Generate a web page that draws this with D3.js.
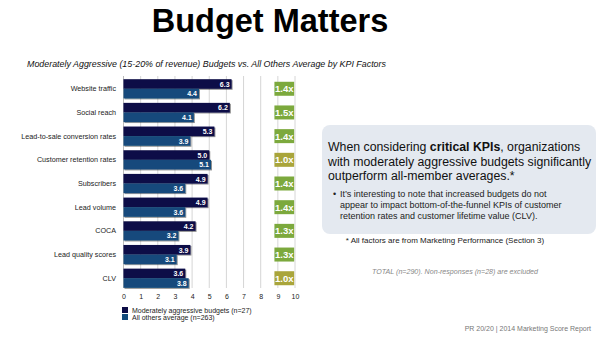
<!DOCTYPE html>
<html>
<head>
<meta charset="utf-8">
<script src="https://cdn.jsdelivr.net/npm/d3@7"></script>
<style>
  body { margin: 0; background: #fff; }
  svg { font-family: "Liberation Sans", Arial, Helvetica, sans-serif; }
  .grid line { stroke: #d6d6d6; stroke-width: 1; }
  .axis path, .axis line { display: none; }
  .axis text { font-size: 7px; fill: #222; }
</style>
</head>
<body>
<svg id="chart" width="600" height="345"></svg>
<script>
var categories = ["Website traffic", "Social reach", "Lead-to-sale conversion rates",
  "Customer retention rates", "Subscribers", "Lead volume", "COCA",
  "Lead quality scores", "CLV"];
var aggressive = [6.3, 6.2, 5.3, 5.0, 4.9, 4.9, 4.2, 3.9, 3.6];
var others = [4.4, 4.1, 3.9, 5.1, 3.6, 3.6, 3.2, 3.1, 3.8];
var multipliers = ["1.4x", "1.5x", "1.4x", "1.0x", "1.4x", "1.4x", "1.3x", "1.3x", "1.0x"];
var ticks = [0, 1, 2, 3, 4, 5, 6, 7, 8, 9, 10];
var seriesNames = ["Moderately aggressive budgets (n=27)", "All others average (n=263)"];

var svg = d3.select("#chart");

var x = d3.scaleLinear().domain([0, 10]).range([123.5, 295]);
var y = d3.scaleBand().domain(categories).range([78, 289]).paddingInner(0.19).paddingOuter(0.05);
var half = y.bandwidth() / 2;

var colDark = "#0c0c46", colBlue = "#124a7b";
var colGreen = "#7ca93d", colOlive = "#a9a53b";

// drop shadow for the bars
var defs = svg.append("defs");
var f = defs.append("filter").attr("id", "shadow").attr("x", "-5%").attr("y", "-20%")
  .attr("width", "115%").attr("height", "160%");
f.append("feDropShadow").attr("dx", 1).attr("dy", 1).attr("stdDeviation", 0.6)
  .attr("flood-color", "#000").attr("flood-opacity", 0.45);

// title
svg.append("text").attr("x", 270).attr("y", 32).attr("text-anchor", "middle")
  .attr("font-size", 32.5).attr("font-weight", "bold").attr("fill", "#000")
  .text("Budget Matters");

svg.append("text").attr("x", 27).attr("y", 67)
  .attr("font-size", 8.9).attr("font-style", "italic").attr("fill", "#111")
  .text("Moderately Aggressive (15-20% of revenue) Budgets vs. All Others Average by KPI Factors");

// gridlines
svg.append("g").attr("class", "grid")
  .selectAll("line").data(ticks.slice(1)).join("line")
  .attr("x1", d => x(d)).attr("x2", d => x(d))
  .attr("y1", 76).attr("y2", 288);

// x axis
svg.append("g").attr("class", "axis")
  .attr("transform", "translate(0,288)")
  .call(d3.axisBottom(x).tickValues(ticks).tickFormat(d3.format("d")).tickSize(0).tickPadding(6));

svg.append("line").attr("x1", x(0)).attr("x2", x(0)).attr("y1", 76).attr("y2", 288)
  .attr("stroke", "#bbb").attr("stroke-width", 1);

// category labels
svg.append("g").selectAll("text").data(categories).join("text")
  .attr("x", 116).attr("y", d => y(d) + half + 2.5)
  .attr("text-anchor", "end").attr("font-size", 7.2).attr("fill", "#222")
  .text(d => d);

var rows = categories.map((c, i) => ({ c: c, a: aggressive[i], o: others[i], m: multipliers[i] }));

var bars = svg.append("g");
bars.selectAll("rect.a").data(rows).join("rect").attr("class", "a")
  .attr("x", x(0)).attr("y", d => y(d.c))
  .attr("width", d => x(d.a) - x(0)).attr("height", half)
  .attr("fill", colDark).attr("filter", "url(#shadow)");
bars.selectAll("rect.o").data(rows).join("rect").attr("class", "o")
  .attr("x", x(0)).attr("y", d => y(d.c) + half)
  .attr("width", d => x(d.o) - x(0)).attr("height", half)
  .attr("fill", colBlue).attr("filter", "url(#shadow)");

var fmt = d3.format(".1f");
bars.selectAll("text.a").data(rows).join("text").attr("class", "a")
  .attr("x", d => x(d.a) - 2).attr("y", d => y(d.c) + half - 2)
  .attr("text-anchor", "end").attr("font-size", 7).attr("font-weight", "bold").attr("fill", "#fff")
  .text(d => fmt(d.a));
bars.selectAll("text.o").data(rows).join("text").attr("class", "o")
  .attr("x", d => x(d.o) - 2).attr("y", d => y(d.c) + 2 * half - 2)
  .attr("text-anchor", "end").attr("font-size", 7).attr("font-weight", "bold").attr("fill", "#fff")
  .text(d => fmt(d.o));

// multiplier badges
var badge = svg.append("g").selectAll("g").data(rows).join("g")
  .attr("transform", d => "translate(" + x(8.8) + "," + (y(d.c) + half - 7) + ")");
badge.append("rect").attr("width", x(9.95) - x(8.8)).attr("height", 14)
  .attr("fill", d => d.m === "1.0x" ? colOlive : colGreen);
badge.append("text").attr("x", (x(9.95) - x(8.8)) / 2).attr("y", 10.5)
  .attr("text-anchor", "middle").attr("font-size", 9.5).attr("font-weight", "bold")
  .attr("fill", "#fff").text(d => d.m);

// legend
var leg = svg.append("g").attr("transform", "translate(122,307)");
[colDark, colBlue].forEach(function (c, i) {
  leg.append("rect").attr("x", 0).attr("y", i * 7).attr("width", 6).attr("height", 6).attr("fill", c);
  leg.append("text").attr("x", 10).attr("y", i * 7 + 5.5).attr("font-size", 7).attr("fill", "#222")
    .text(seriesNames[i]);
});

// callout box
svg.append("rect").attr("x", 322).attr("y", 125).attr("width", 274).attr("height", 109)
  .attr("rx", 8).attr("fill", "#e4e9f0");

var head = svg.append("text").attr("font-size", 12.3).attr("fill", "#111");
var l1 = head.append("tspan").attr("x", 328).attr("y", 151);
l1.append("tspan").text("When considering ");
l1.append("tspan").attr("font-weight", "bold").text("critical KPIs");
l1.append("tspan").text(", organizations");
head.append("tspan").attr("x", 328).attr("y", 165.5).text("with moderately aggressive budgets significantly");
head.append("tspan").attr("x", 328).attr("y", 180).text("outperform all-member averages.*");

svg.append("text").attr("x", 333).attr("y", 197).attr("font-size", 9).attr("fill", "#222").text("•");
var bullet = ["It’s interesting to note that increased budgets do not",
  "appear to impact bottom-of-the-funnel KPIs of customer",
  "retention rates and customer lifetime value (CLV)."];
svg.append("g").selectAll("text").data(bullet).join("text")
  .attr("x", 340).attr("y", (d, i) => 197 + i * 11)
  .attr("font-size", 9).attr("fill", "#222").text(d => d);

svg.append("text").attr("x", 445).attr("y", 243).attr("text-anchor", "middle")
  .attr("font-size", 8).attr("fill", "#222")
  .text("* All factors are from Marketing Performance (Section 3)");

svg.append("text").attr("x", 455).attr("y", 274).attr("text-anchor", "middle")
  .attr("font-size", 7.1).attr("font-style", "italic").attr("fill", "#888")
  .text("TOTAL (n=290). Non-responses (n=28) are excluded");

svg.append("text").attr("x", 591).attr("y", 331).attr("text-anchor", "end")
  .attr("font-size", 7).attr("fill", "#777")
  .text("PR 20/20 | 2014 Marketing Score Report");
</script>
</body>
</html>
